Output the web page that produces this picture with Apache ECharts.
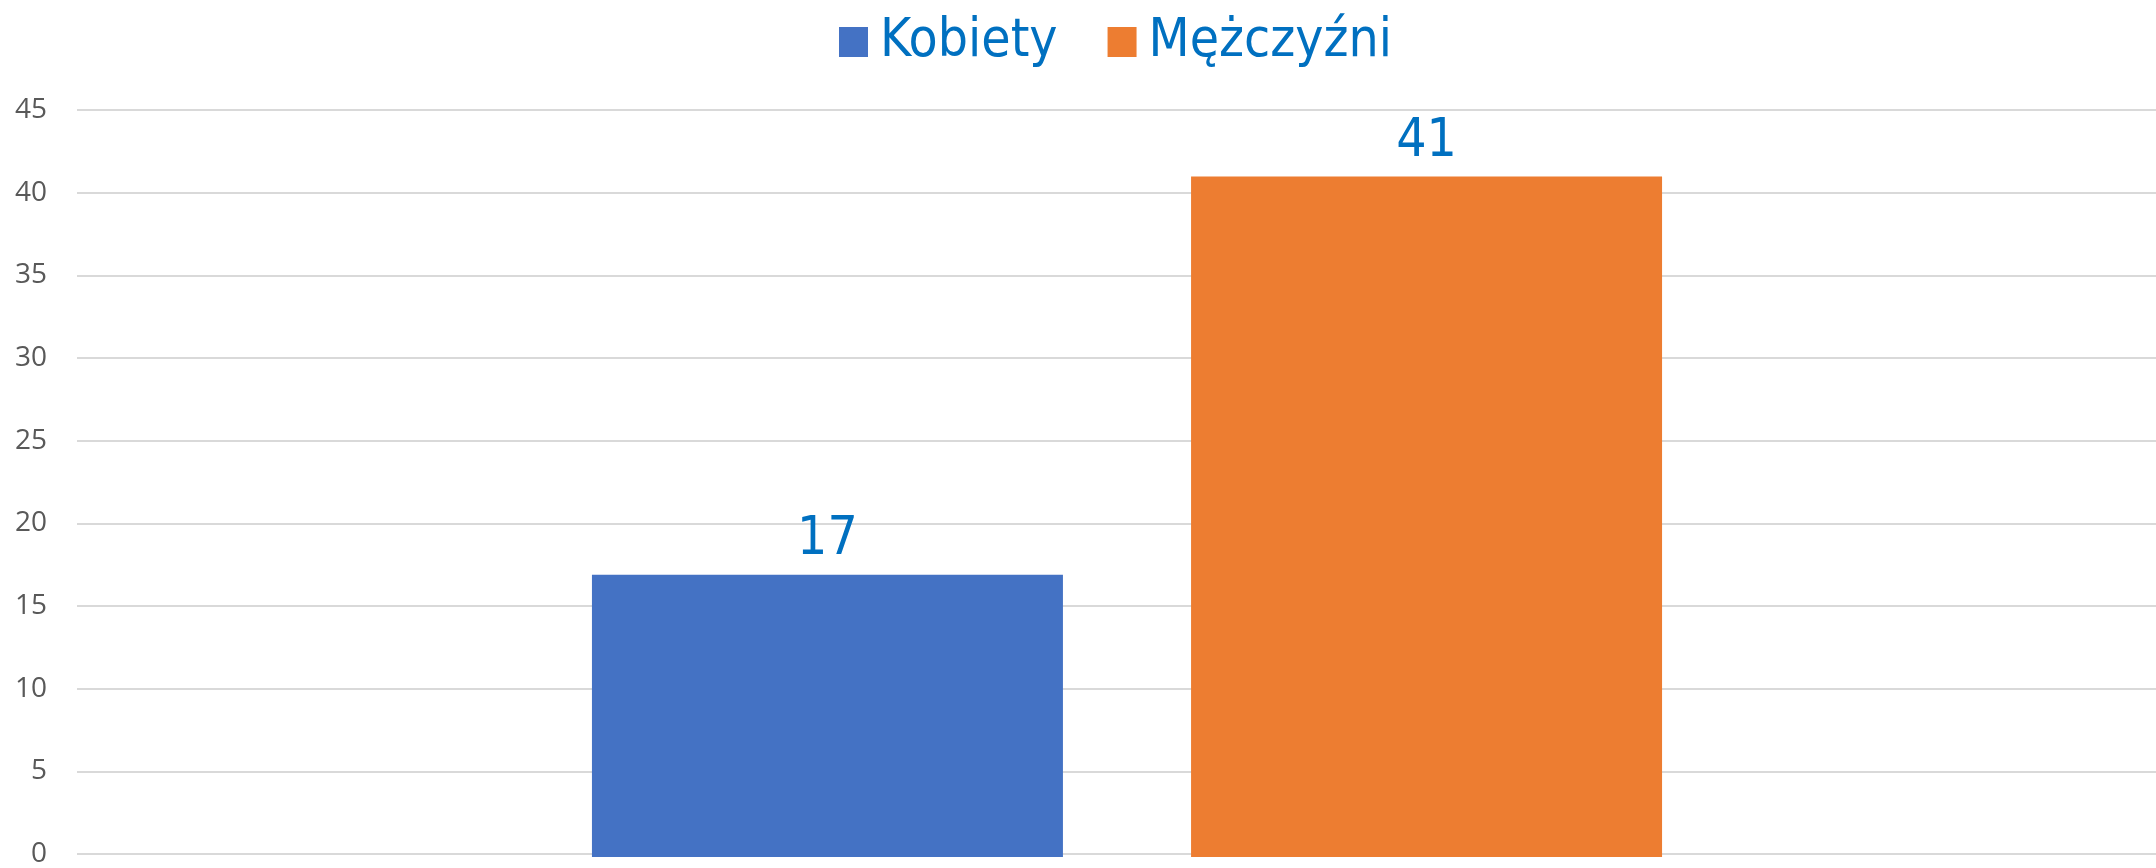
<!DOCTYPE html>
<html>
<head>
<meta charset="utf-8">
<script src="https://cdn.jsdelivr.net/npm/echarts@6/dist/echarts.min.js"></script>
<style>
  html, body { margin: 0; padding: 0; background: #fff; }
  #chart { width: 2156px; height: 868px; }
</style>
</head>
<body>
<div id="chart"></div>
<script>
const categories = ['']
const seriesNames = ['Kobiety', 'Mężczyźni']
const kobiety = [17]
const mezczyzni = [41]
const seriesColors = ['#4472C4', '#ED7D31']
const yMin = 0
const yMax = 45
const yStep = 5

const LABEL_FONT = '"DejaVu Sans Condensed", "DejaVu Sans", sans-serif'
const LABEL_COLOR = '#0070C0'

const chart = echarts.init(document.getElementById('chart'))

const barLabel = {
  show: true,
  position: 'top',
  distance: 8,
  color: LABEL_COLOR,
  fontFamily: LABEL_FONT,
  fontSize: 53,
}

// grid 0 carries the gridlines and tick labels, grid 1 the bars
// (the plot area in the original runs past the right edge, so the bars sit a bit right of centre)
chart.setOption({
  backgroundColor: '#fff',
  animation: false,
  legend: {
    top: 7,
    left: 834,
    icon: 'rect',
    itemWidth: 29,
    itemHeight: 30,
    itemGap: 50,
    textStyle: {
      color: LABEL_COLOR,
      fontFamily: LABEL_FONT,
      fontSize: 53,
      lineHeight: 60,
      padding: [0, 0, 0, 7],
    },
    data: seriesNames,
  },
  grid: [
    { left: 77, right: 0, top: 110, bottom: 11 },
    { left: 98, right: 0, top: 110, bottom: 11 },
  ],
  xAxis: [
    { type: 'category', gridIndex: 0, data: categories, show: false },
    { type: 'category', gridIndex: 1, data: categories, show: false },
  ],
  yAxis: [
    {
      type: 'value',
      gridIndex: 0,
      min: yMin,
      max: yMax,
      interval: yStep,
      axisLine: { show: false },
      axisTick: { show: false },
      axisLabel: {
        color: '#595959',
        fontFamily: '"Open Sans", sans-serif',
        fontSize: 28,
        margin: 30,
      },
      splitLine: { lineStyle: { color: '#d9d9d9', width: 2 } },
    },
    {
      type: 'value',
      gridIndex: 1,
      min: yMin,
      max: yMax,
      interval: yStep,
      show: false,
      splitLine: { show: false },
    },
  ],
  series: [
    {
      name: seriesNames[0],
      type: 'bar',
      xAxisIndex: 1,
      yAxisIndex: 1,
      data: kobiety,
      barWidth: 471,
      barGap: '27.2%',
      itemStyle: { color: seriesColors[0] },
      label: barLabel,
    },
    {
      name: seriesNames[1],
      type: 'bar',
      xAxisIndex: 1,
      yAxisIndex: 1,
      data: mezczyzni,
      barWidth: 471,
      barGap: '27.2%',
      itemStyle: { color: seriesColors[1] },
      label: barLabel,
    },
  ],
})
</script>
</body>
</html>
